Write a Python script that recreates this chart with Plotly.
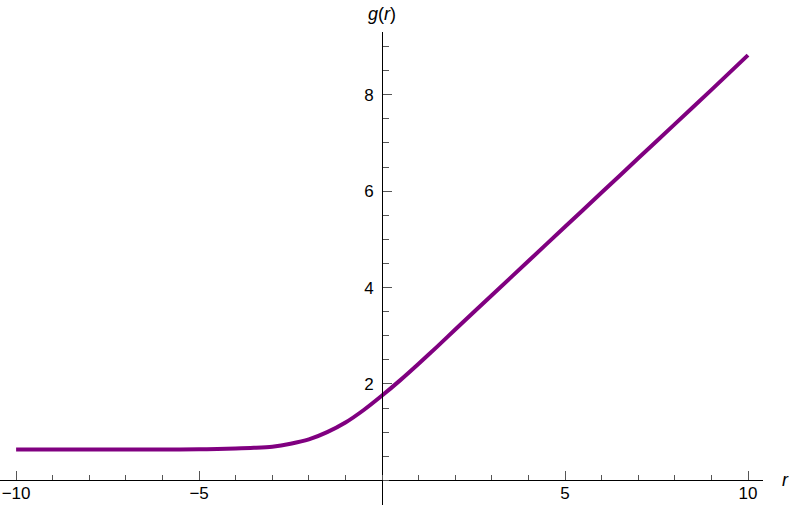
import plotly.graph_objects as go

# curve values
r_vals = [-10, -9, -8, -7, -6, -5, -4.5, -4, -3.5, -3, -2.5, -2, -1.5, -1, -0.5,
          0, 0.5, 1, 1.5, 2, 3, 4, 5, 6, 7, 8, 9, 10]
g_vals = [0.64, 0.64, 0.64, 0.64, 0.64, 0.645, 0.65, 0.66, 0.675, 0.70, 0.76, 0.85, 1.00, 1.20, 1.46,
          1.76, 2.08, 2.42, 2.77, 3.13, 3.84, 4.55, 5.26, 5.97, 6.68, 7.39, 8.10, 8.82]

x_ticks = [-10, -5, 5, 10]
y_ticks = [2, 4, 6, 8]

W, H = 790, 505
m_l, m_r, m_t, m_b = 0, 27, 32, 0
x_range = [-10.44, 10.41]
y_range = [-0.51, 9.30]

# where the axes cross (r=0, g=0) as fractions of the plot area
x_axis_pos = (0 - y_range[0]) / (y_range[1] - y_range[0])
y_axis_pos = (0 - x_range[0]) / (x_range[1] - x_range[0])

font = dict(family="Liberation Sans, Arial, sans-serif", size=17, color="#000000")

fig = go.Figure()
fig.add_trace(go.Scatter(
    x=r_vals, y=g_vals,
    mode="lines",
    line=dict(color="#800080", width=4, shape="spline", smoothing=0.8),
    showlegend=False,
    hoverinfo="skip",
))

fig.update_layout(
    width=W, height=H,
    margin=dict(l=m_l, r=m_r, t=m_t, b=m_b, autoexpand=False),
    paper_bgcolor="white",
    plot_bgcolor="white",
    font=font,
    xaxis=dict(
        range=x_range, automargin=False,
        anchor="free", position=x_axis_pos, side="bottom",
        showgrid=False, zeroline=False,
        showline=True, linecolor="#000000", linewidth=1,
        tickmode="array", tickvals=x_ticks,
        ticks="inside", ticklen=9, tickwidth=1, tickcolor="#555555",
        ticklabelstandoff=-3,
        minor=dict(dtick=1, ticks="inside", ticklen=5, tickwidth=1, tickcolor="#555555"),
        tickfont=font,
    ),
    yaxis=dict(
        range=y_range, automargin=False,
        anchor="free", position=y_axis_pos, side="left",
        showgrid=False, zeroline=False,
        showline=True, linecolor="#000000", linewidth=1,
        tickmode="array", tickvals=y_ticks,
        ticks="inside", ticklen=9, tickwidth=1, tickcolor="#555555",
        ticklabelstandoff=5,
        minor=dict(tick0=0, dtick=0.5, ticks="inside", ticklen=6, tickwidth=1, tickcolor="#555555"),
        tickfont=font,
    ),
    annotations=[
        dict(text="<i>r</i>", xref="paper", yref="y", x=1, y=0,
             xanchor="left", yanchor="middle", xshift=17, showarrow=False,
             font=dict(family="Liberation Sans, Arial, sans-serif", size=18, color="#000000")),
        dict(text="<i>g</i>(<i>r</i>)", xref="x", yref="paper", x=0, y=1,
             xanchor="center", yanchor="bottom", yshift=6, showarrow=False,
             font=dict(family="Liberation Sans, Arial, sans-serif", size=18, color="#000000")),
    ],
)

# the page body has a default 8px margin; drop it so the figure sits at the window corner
fig.write_html("out.html", config={"displayModeBar": False},
               post_script="document.body.style.margin='0';")
